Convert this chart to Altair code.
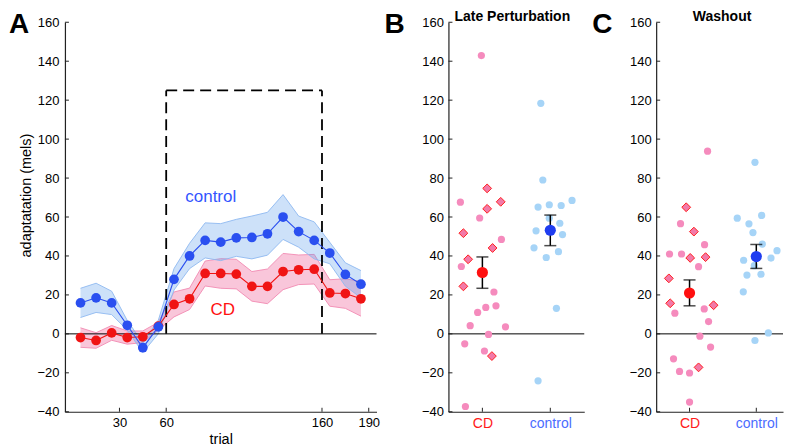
import altair as alt
import pandas as pd

FONT = "Liberation Sans"

# ---------------- Panel A data (trial bins) ----------------
trials = [5, 15, 25, 35, 45, 55, 65, 75, 85, 95, 105, 115, 125, 135, 145, 155, 165, 175, 185]
control_mean = [15.9, 18.5, 15.9, 4.4, -7.1, 3.6, 28.0, 40.0, 48.0, 47.1, 49.3, 49.5, 51.4, 60.0, 52.5, 48.0, 41.5, 30.5, 25.5]
control_sem = [7.5, 7.5, 6.0, 2.5, 2.5, 3.5, 5.5, 6.5, 9.0, 9.5, 9.5, 11.0, 11.0, 11.5, 8.0, 9.5, 5.5, 6.0, 7.0]
cd_mean = [-1.9, -3.4, 0.5, -1.9, -1.5, 4.0, 15.1, 18.0, 31.0, 31.0, 30.7, 24.4, 24.4, 32.0, 32.9, 33.2, 21.0, 20.7, 18.0]
cd_sem = [5.0, 4.0, 3.8, 3.4, 3.0, 2.0, 6.4, 5.5, 6.4, 7.6, 7.6, 7.6, 8.9, 9.3, 7.6, 7.6, 6.8, 7.6, 8.9]
perturb_start, perturb_end, perturb_top = 60, 160, 125
x_ticks_A = [30, 60, 160, 190]
y_ticks = [-40, -20, 0, 20, 40, 60, 80, 100, 120, 140, 160]
series_labels = ["control", "CD"]
series_label_trial = [88.6, 96.3]
series_label_value = [70.3, 12.3]

# ---------------- Panels B / C data ----------------
groups = ["CD", "control"]

late_cd_value = [142.9, 67.6, 74.7, 64.2, 67.8, 59.5, 51.7, 44.1, 48.5, 38.3, 34.6, 24.4,
                 21.5, 13.6, 14.4, 11.0, 4.2, 3.6, -0.3, -5.1, -8.8, -11.4, -37.3]
late_cd_pos = [0.985, 0.676, 1.07, 1.07, 1.27, 0.96, 0.72, 1.15, 1.28, 0.79, 0.69, 0.72,
               1.17, 1.05, 1.20, 0.93, 0.82, 1.34, 1.09, 0.74, 1.03, 1.14, 0.75]
late_cd_diamond = [0, 0, 1, 1, 1, 0, 1, 1, 0, 1, 0, 1, 0, 0, 0, 0, 0, 0, 0, 0, 0, 1, 0]
late_ctrl_value = [118.4, 79.0, 65.1, 66.3, 65.9, 68.5, 56.8, 59.4, 52.9, 51.0, 44.2, 42.2, 39.2, 13.1, -24.1]
late_ctrl_pos = [1.86, 1.89, 1.82, 1.985, 2.16, 2.32, 2.14, 1.985, 1.79, 2.18, 1.76, 2.12, 1.94, 2.09, 1.82]
late_mean = [31.5, 53.2]
late_lo = [23.4, 45.3]
late_hi = [39.5, 61.0]

wash_cd_value = [93.8, 65.0, 56.6, 52.5, 45.8, 41.0, 41.0, 39.0, 39.4, 34.5, 28.5, 15.7,
                 10.6, 12.8, 14.7, 6.3, -1.2, -6.8, -12.8, -19.3, -20.1, -17.2, -35.0]
wash_cd_pos = [1.27, 0.95, 0.865, 1.065, 1.225, 0.70, 0.88, 1.01, 1.24, 1.135, 0.69, 0.71,
               0.78, 1.22, 1.36, 1.285, 1.155, 1.315, 0.76, 0.85, 1.0, 1.135, 1.0]
wash_cd_diamond = [0, 1, 0, 1, 0, 0, 0, 1, 1, 0, 1, 1, 0, 0, 1, 0, 0, 0, 0, 0, 0, 1, 0]
wash_ctrl_value = [88.1, 59.4, 56.5, 60.8, 52.0, 46.1, 42.7, 37.8, 38.9, 30.2, 30.6, 21.6, 0.5, -3.4, 35.0]
wash_ctrl_pos = [1.98, 1.715, 1.89, 2.08, 1.95, 2.09, 2.31, 1.81, 2.22, 1.86, 2.07, 1.805, 2.18, 1.98, 1.97]
wash_mean = [21.0, 39.7]
wash_lo = [14.4, 33.6]
wash_hi = [27.7, 45.9]

# ---------------- styling ----------------
H = 390
WA = 312
BLUE = "#2a4ff0"
RED = "#f01414"
BAND_BLUE = "#5b9bea"
BAND_PINK = "#ec4d8c"
EDGE_BLUE = "#8fb9f0"
EDGE_PINK = "#f28ab2"
PINK_DOT = "#f58bbd"
LIGHT_BLUE_DOT = "#a6d4f7"
AXIS = "#222222"

yS = alt.Scale(domain=[-40, 160], nice=False, zero=False)

# ================= Panel A =================
xA = alt.Scale(domain=[-5, 195], nice=False, zero=False)
axisXA = alt.Axis(values=x_ticks_A, title="trial", ticks=False, labelPadding=5,
                  titleY=32, titleBaseline="alphabetic", grid=False)
axisYA = alt.Axis(values=y_ticks, title="adaptatation (mels)", ticks=False, labelPadding=6,
                  titleX=-38, titleY=173, titleAngle=270, titleAlign="center",
                  titleBaseline="middle", grid=False)

def XA(field):
    return alt.X(field, scale=xA, axis=axisXA)

def YA(field):
    return alt.Y(field, scale=yS, axis=axisYA)

dfA = pd.DataFrame({
    "trial": trials + trials,
    "mean": control_mean + cd_mean,
    "sem": control_sem + cd_sem,
    "group": ["control"] * len(trials) + ["CD"] * len(trials),
})

def band_layers(group, fill, edge, op):
    src = (alt.Chart(dfA)
           .transform_filter(alt.datum.group == group)
           .transform_calculate(lo="datum.mean - datum.sem", hi="datum.mean + datum.sem"))
    area = src.mark_area(color=fill, opacity=op).encode(x=XA("trial:Q"), y=YA("lo:Q"), y2="hi:Q")
    up = src.mark_line(color=edge, strokeWidth=0.9).encode(x=XA("trial:Q"), y=YA("hi:Q"))
    dn = src.mark_line(color=edge, strokeWidth=0.9).encode(x=XA("trial:Q"), y=YA("lo:Q"))
    return [area, up, dn]

def series_layers(group, color):
    src = alt.Chart(dfA).transform_filter(alt.datum.group == group)
    line = src.mark_line(color=color, strokeWidth=1.1).encode(x=XA("trial:Q"), y=YA("mean:Q"))
    pts = src.mark_circle(color=color, size=95, opacity=1).encode(x=XA("trial:Q"), y=YA("mean:Q"))
    return [line, pts]

zeroA = alt.Chart(pd.DataFrame({"y": [0]})).mark_rule(color="black", strokeWidth=1).encode(
    y=YA("y:Q"), x=alt.value(0), x2=alt.value(WA))

box_df = pd.DataFrame({
    "x": [perturb_start, perturb_start, perturb_end],
    "x2": [perturb_end, perturb_start, perturb_end],
    "y": [perturb_top, 0, 0],
    "y2": [perturb_top, perturb_top, perturb_top],
})
box = alt.Chart(box_df).mark_rule(color="black", strokeWidth=1.8, strokeDash=[11, 6]).encode(
    x=XA("x:Q"), x2="x2:Q", y=YA("y:Q"), y2="y2:Q")

lab_df = pd.DataFrame({"label": series_labels, "trial": series_label_trial, "value": series_label_value})
lab_ctrl = alt.Chart(lab_df).transform_filter(alt.datum.label == "control").mark_text(
    color="#3355ff", fontSize=17, font=FONT, baseline="middle", align="center").encode(
    x=XA("trial:Q"), y=YA("value:Q"), text="label:N")
lab_cd = alt.Chart(lab_df).transform_filter(alt.datum.label == "CD").mark_text(
    color="#ff1111", fontSize=17, font=FONT, baseline="middle", align="center").encode(
    x=XA("trial:Q"), y=YA("value:Q"), text="label:N")

ytickA = alt.Chart(pd.DataFrame({"v": y_ticks})).mark_rule(color=AXIS, strokeWidth=1).encode(
    y=YA("v:Q"), x=alt.value(0), x2=alt.value(4))
xtickA = alt.Chart(pd.DataFrame({"t": x_ticks_A})).mark_rule(color=AXIS, strokeWidth=1).encode(
    x=XA("t:Q"), y=alt.value(H), y2=alt.value(H - 4))

letterA = alt.Chart(pd.DataFrame({"t": ["A"]})).mark_text(
    fontSize=28, fontWeight="bold", font=FONT, align="center", baseline="middle", color="black").encode(
    text="t:N", x=alt.value(-46), y=alt.value(3))

panelA = alt.layer(
    *band_layers("CD", BAND_PINK, EDGE_PINK, 0.32),
    *band_layers("control", BAND_BLUE, EDGE_BLUE, 0.30),
    zeroA, box,
    *series_layers("CD", RED),
    *series_layers("control", BLUE),
    lab_ctrl, lab_cd, ytickA, xtickA, letterA,
).properties(width=WA, height=H)

# ================= Panels B / C =================
label_expr = f"datum.value == 1 ? '{groups[0]}' : '{groups[1]}'"
label_color = {"condition": {"test": "datum.value == 1", "value": "#ff1a1a"}, "value": "#4a6cff"}

def scatter_panel(title, letter, cd_val, cd_pos, cd_dia, ct_val, ct_pos, mean, lo, hi,
                  width, xmax, title_x, letter_x):
    xS = alt.Scale(domain=[0.5, xmax], nice=False, zero=False)
    axX = alt.Axis(values=[1, 2], labelExpr=label_expr, labelColor=label_color, title=None,
                   ticks=False, labelPadding=5, labelFontSize=14, grid=False)
    axY = alt.Axis(values=y_ticks, title=None, ticks=False, labelPadding=5, grid=False)

    def X(f):
        return alt.X(f, scale=xS, axis=axX)

    def Y(f):
        return alt.Y(f, scale=yS, axis=axY)

    cd_df = pd.DataFrame({"value": cd_val, "pos": cd_pos, "diamond": cd_dia})
    ct_df = pd.DataFrame({"value": ct_val, "pos": ct_pos})
    st_df = pd.DataFrame({"group": groups, "pos": [1, 2], "mean": mean, "lo": lo, "hi": hi})

    zero = alt.Chart(pd.DataFrame({"y": [0]})).mark_rule(color="black", strokeWidth=1).encode(
        y=Y("y:Q"), x=alt.value(0), x2=alt.value(width))
    ct = alt.Chart(ct_df).mark_circle(color=LIGHT_BLUE_DOT, size=52, opacity=1).encode(
        x=X("pos:Q"), y=Y("value:Q"))
    cdc = alt.Chart(cd_df).transform_filter(alt.datum.diamond == 0).mark_circle(
        color=PINK_DOT, size=52, opacity=1).encode(x=X("pos:Q"), y=Y("value:Q"))
    cdd = alt.Chart(cd_df).transform_filter(alt.datum.diamond == 1).mark_point(
        shape="diamond", filled=True, fill="#f27aa8", stroke="#ff1f1f", strokeWidth=1,
        size=78, opacity=1).encode(x=X("pos:Q"), y=Y("value:Q"))
    err = alt.Chart(st_df).mark_rule(color="black", strokeWidth=1.5).encode(
        x=X("pos:Q"), y=Y("lo:Q"), y2="hi:Q")
    cap_lo = alt.Chart(st_df).mark_tick(orient="horizontal", color="black", size=12, thickness=1.5).encode(
        x=X("pos:Q"), y=Y("lo:Q"))
    cap_hi = alt.Chart(st_df).mark_tick(orient="horizontal", color="black", size=12, thickness=1.5).encode(
        x=X("pos:Q"), y=Y("hi:Q"))
    m_cd = alt.Chart(st_df).transform_filter(alt.datum.group == groups[0]).mark_circle(
        color="#ff1010", size=125, opacity=1).encode(x=X("pos:Q"), y=Y("mean:Q"))
    m_ct = alt.Chart(st_df).transform_filter(alt.datum.group == groups[1]).mark_circle(
        color="#1f3df0", size=125, opacity=1).encode(x=X("pos:Q"), y=Y("mean:Q"))
    ytk = alt.Chart(pd.DataFrame({"v": y_ticks})).mark_rule(color=AXIS, strokeWidth=1).encode(
        y=Y("v:Q"), x=alt.value(0), x2=alt.value(4))
    xtk = alt.Chart(pd.DataFrame({"t": [1, 2]})).mark_rule(color=AXIS, strokeWidth=1).encode(
        x=X("t:Q"), y=alt.value(H), y2=alt.value(H - 4))
    ttl = alt.Chart(pd.DataFrame({"t": [title]})).mark_text(
        fontSize=14, fontWeight="bold", font=FONT, align="center", baseline="alphabetic",
        color="black").encode(text="t:N", x=alt.value(title_x), y=alt.value(-1))
    let = alt.Chart(pd.DataFrame({"t": [letter]})).mark_text(
        fontSize=28, fontWeight="bold", font=FONT, align="center", baseline="middle",
        color="black").encode(text="t:N", x=alt.value(letter_x), y=alt.value(3))
    return alt.layer(zero, ct, cdc, cdd, err, cap_lo, cap_hi, m_cd, m_ct, ytk, xtk, ttl, let).properties(
        width=width, height=H)

panelB = scatter_panel("Late Perturbation", "B", late_cd_value, late_cd_pos, late_cd_diamond,
                       late_ctrl_value, late_ctrl_pos, late_mean, late_lo, late_hi,
                       136, 2.5, 64, -54)
panelC = scatter_panel("Washout", "C", wash_cd_value, wash_cd_pos, wash_cd_diamond,
                       wash_ctrl_value, wash_ctrl_pos, wash_mean, wash_lo, wash_hi,
                       127, 2.4, 66, -54)

chart = alt.hconcat(panelA, panelB, panelC, spacing=72, bounds="flush").properties(
    padding={"left": 0, "top": 2, "right": 0, "bottom": 0}
).configure_view(stroke=None).configure_axis(
    labelFont=FONT, titleFont=FONT, labelFontSize=13, titleFontSize=14.5,
    labelColor="black", titleColor="black", titleFontWeight="normal",
    domainColor=AXIS, domainWidth=1.2,
).configure_text(font=FONT)

chart.save("out.html", embed_options={"renderer": "svg", "actions": False})
